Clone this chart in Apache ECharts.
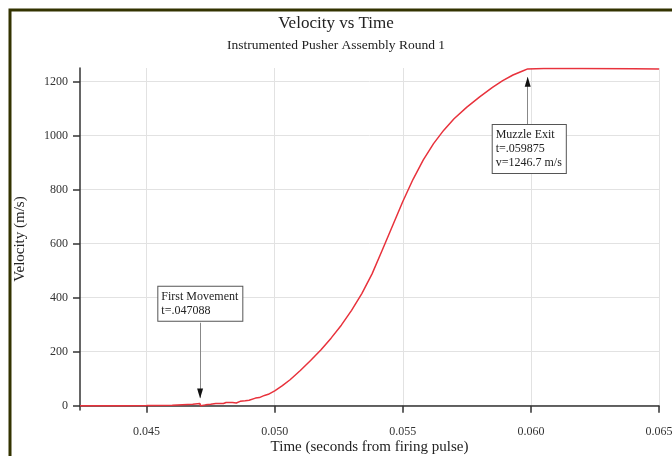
<!DOCTYPE html>
<html>
<head>
<meta charset="utf-8">
<script src="https://cdn.jsdelivr.net/npm/echarts@6/dist/echarts.min.js"></script>
<style>
html,body{margin:0;padding:0;background:#fff;}
#c{width:672px;height:456px;}
</style>
</head>
<body>
<div id="c"></div>
<script>
// ---- data ----
const timeS = [0.04240,0.04400,0.04500,0.04600,0.04680,0.04708,0.04710,0.04730,0.04750,0.04770,0.04775,0.04800,0.04810,0.04815,0.04835,0.04850,0.04865,0.04870,0.04885,0.04900,0.04905,0.04925,0.04940,0.04945,0.04960,0.04975,0.04980,
  0.05000,0.05030,0.05060,0.05100,0.05140,0.05180,0.05220,0.05260,0.05300,0.05340,0.05380,0.05420,0.05460,0.05500,0.05540,0.05580,0.05620,0.05660,0.05700,0.05750,0.05800,0.05850,0.05890,0.05930,0.05970,0.059875,
  0.06050,0.06200,0.06400,0.06500];
const velocity = [0,0,0.5,2,5,8,0,3,5,8,3,8,12,7,12,10,16,11,18,20,15,28,30,26,38,42,38,
  55,74,96,130,167,206,250,298,353,415,488,576,666,756,838,910,970,1020,1062,1105,1143,1178,1203,1224,1240,1246.7,
  1248,1248,1247,1246];
const xTicks = [0.045,0.050,0.055,0.060,0.065];
const yTicks = [0,200,400,600,800,1000,1200];
const firstMove = {t:0.047088, label:'First Movement\nt=.047088'};
const muzzle = {t:0.059875, v:1246.7, label:'Muzzle Exit\nt=.059875\nv=1246.7 m/s'};

const serif = '"Liberation Serif","DejaVu Serif",serif';
const chart = echarts.init(document.getElementById('c'));
const pts = timeS.map((t,i)=>[t,velocity[i]]);

chart.setOption({
  backgroundColor:'#fff',
  animation:false,
  title:[
    {text:'Velocity vs Time', left:'center', top:10, textStyle:{fontFamily:serif, fontSize:17, fontWeight:'normal', color:'#222'}},
    {text:'Instrumented Pusher Assembly Round 1', left:'center', top:33, textStyle:{fontFamily:serif, fontSize:13.5, fontWeight:'normal', color:'#222'}}
  ],
  graphic:[{type:'rect', shape:{x:10, y:10, width:720, height:520}, style:{fill:'none', stroke:'#333300', lineWidth:3}, silent:true}],
  grid:{left:80, right:13, top:68, bottom:46, containLabel:false, outerBoundsMode:'none'},
  xAxis:{
    type:'value', min:0.0424, max:0.065,
    name:'Time (seconds from firing pulse)', nameLocation:'middle', nameGap:30, nameMoveOverlap:false,
    nameTextStyle:{fontFamily:serif, fontSize:15, color:'#222'},
    axisLine:{show:true, lineStyle:{color:'#333', width:1.5}},
    axisTick:{show:true, length:7, inside:false, customValues:xTicks, lineStyle:{color:'#333', width:1.5}},
    axisLabel:{customValues:xTicks, margin:16, fontFamily:serif, fontSize:12, color:'#333', formatter:v=>v.toFixed(3)},
    splitLine:{show:true, lineStyle:{color:'#e2e2e2', width:1}}
  },
  yAxis:{
    type:'value', min:-16, max:1250,
    name:'Velocity (m/s)', nameLocation:'middle', nameGap:52, nameRotate:90, nameMoveOverlap:false,
    nameTextStyle:{fontFamily:serif, fontSize:15, color:'#222'},
    axisLine:{show:true, lineStyle:{color:'#333', width:1.5}},
    axisTick:{show:true, length:7, inside:false, customValues:yTicks, lineStyle:{color:'#333', width:1.5}},
    axisLabel:{customValues:yTicks, margin:12, fontFamily:serif, fontSize:12, color:'#333', formatter:v=>String(v)},
    splitLine:{show:true, lineStyle:{color:'#e2e2e2', width:1}}
  },
  series:[{
    type:'line', data:pts, showSymbol:false, symbol:'none',
    lineStyle:{color:'#e8323c', width:1.5},
    z:3,
    markLine:{
      silent:true, symbol:['none','none'],
      lineStyle:{color:'#888', width:1, type:'solid'},
      label:{show:false},
      data:[
        [{coord:[firstMove.t, 307]}, {coord:[firstMove.t, 30]}],
        [{coord:[muzzle.t, 1039]}, {coord:[muzzle.t, 1215]}]
      ]
    },
    markPoint:{
      silent:true, symbol:'rect', symbolSize:0,
      label:{show:true, position:[0,0], align:'left', verticalAlign:'top',
        fontFamily:serif, fontSize:12, lineHeight:14, color:'#222',
        backgroundColor:'#fff', borderColor:'#555', borderWidth:1, padding:[3,4,3,3]},
      data:[
        {coord:[0.045457, 440], value:firstMove.label, label:{formatter:firstMove.label}},
        {coord:[0.058509, 1039], value:muzzle.label, label:{formatter:muzzle.label}},
        {coord:[firstMove.t, 27], symbol:'triangle', symbolRotate:180, symbolSize:[6,10], symbolOffset:[0,-5], itemStyle:{color:'#111'}, label:{show:false}},
        {coord:[muzzle.t, 1218], symbol:'triangle', symbolSize:[6,10], symbolOffset:[0,5], itemStyle:{color:'#111'}, label:{show:false}}
      ]
    }
  }]
});
</script>
</body>
</html>
